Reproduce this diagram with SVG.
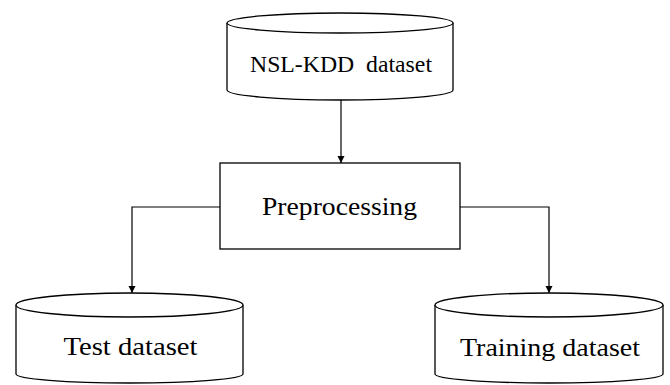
<svg xmlns="http://www.w3.org/2000/svg" width="670" height="385" viewBox="0 0 670 385">
<defs>
<style>
.shape{fill:#fff;stroke:#000;stroke-width:1.3}
.lbl{font-family:"Liberation Serif","Times New Roman",serif;fill:#000;text-anchor:middle;white-space:pre}
.conn{fill:none;stroke:#000;stroke-width:1.2}
</style>
<marker id="arr" viewBox="0 0 10 10" refX="10" refY="5" markerWidth="7" markerHeight="8" markerUnits="userSpaceOnUse" orient="auto">
<path d="M0,0 L10,5 L0,10 Z" fill="#000"/>
</marker>
</defs>
<g id="connectors">
<path class="conn" d="M341,100 L341,163" marker-end="url(#arr)"/>
<path class="conn" d="M220,207 L132,207 L132,293" marker-end="url(#arr)"/>
<path class="conn" d="M460,207 L549,207 L549,293" marker-end="url(#arr)"/>
</g>
<g id="nsl-kdd">
<path class="shape" d="M227,23 L227,90 A113,10 0 0 0 453,90 L453,23"/>
<ellipse class="shape" cx="340" cy="23" rx="113" ry="10"/>
<text class="lbl" x="341" y="72" font-size="23" textLength="182" lengthAdjust="spacingAndGlyphs" xml:space="preserve">NSL-KDD  dataset</text>
</g>
<g id="preprocessing">
<rect class="shape" x="220" y="163" width="240" height="86"/>
<text class="lbl" x="339.5" y="215" font-size="25" textLength="155" lengthAdjust="spacingAndGlyphs">Preprocessing</text>
</g>
<g id="test">
<path class="shape" d="M16,305 L16,374 A113.5,9 0 0 0 243,374 L243,305"/>
<ellipse class="shape" cx="129.5" cy="305" rx="113.5" ry="12"/>
<text class="lbl" x="130.5" y="355" font-size="26" textLength="134" lengthAdjust="spacingAndGlyphs">Test dataset</text>
</g>
<g id="training">
<path class="shape" d="M435,305 L435,374 A114,9 0 0 0 663,374 L663,305"/>
<ellipse class="shape" cx="549" cy="305" rx="114" ry="12"/>
<text class="lbl" x="550" y="356" font-size="25" textLength="180" lengthAdjust="spacingAndGlyphs">Training dataset</text>
</g>
</svg>
